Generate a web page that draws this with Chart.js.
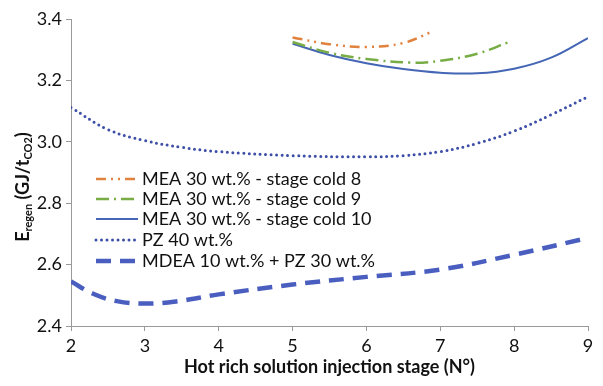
<!DOCTYPE html>
<html>
<head>
<meta charset="utf-8">
<script src="https://cdn.jsdelivr.net/npm/chart.js@4"></script>
<style>
  html, body { margin: 0; padding: 0; background: #fff; }
  #wrap { width: 603px; height: 386px; position: relative; }
</style>
</head>
<body>
<div id="wrap"><canvas id="chart"></canvas></div>
<script>
// data
const xTicks = [2, 3, 4, 5, 6, 7, 8, 9];
const yTicks = [2.4, 2.6, 2.8, 3.0, 3.2, 3.4];

const cold8X = [5, 5.5, 6, 6.5, 6.9];
const cold8Y = [3.34, 3.318, 3.309, 3.322, 3.36];

const cold9X = [5, 5.5, 6, 6.6, 7, 7.5, 7.93];
const cold9Y = [3.325, 3.29, 3.27, 3.258, 3.264, 3.287, 3.325];

const cold10X = [5, 5.5, 6, 6.5, 7, 7.5, 8, 8.5, 9];
const cold10Y = [3.319, 3.283, 3.256, 3.237, 3.225, 3.223, 3.238, 3.274, 3.338];

const pzX = [2, 2.5, 3, 3.5, 4, 5, 6, 6.5, 7, 7.5, 8, 8.5, 9];
const pzY = [3.112, 3.04, 3.004, 2.982, 2.968, 2.955, 2.951, 2.955, 2.968, 2.995, 3.035, 3.088, 3.147];

const mdeaX = [2, 2.3, 2.62, 3, 3.42, 4, 5, 6, 7, 8, 9];
const mdeaY = [2.545, 2.505, 2.481, 2.473, 2.48, 2.503, 2.535, 2.56, 2.584, 2.632, 2.687];

const labels = [
    'MEA 30 wt.% - stage cold 8',
    'MEA 30 wt.% - stage cold 9',
    'MEA 30 wt.% - stage cold 10',
    'PZ 40 wt.%',
    'MDEA 10 wt.% + PZ 30 wt.%'
];

const ORANGE = '#e0823d';
const GREEN = '#78ad46';
const BLUE = '#4466b4';
const NAVY = '#3c4ea6';
const DBLUE = '#4a5ec0';

function pts(xs, ys) {
    return xs.map((x, i) => ({ x: x, y: ys[i] }));
}

const FONT = 'Lato, "Open Sans", sans-serif';

// custom legend + y title
const extras = {
    id: 'extras',
    afterDraw(chart) {
        const ctx = chart.ctx;
        ctx.save();
        // legend
        const rows = [179, 199, 219, 240, 261];
        chart.data.datasets.forEach((ds, i) => {
            const y = rows[i];
            ctx.strokeStyle = ds.borderColor;
            ctx.lineWidth = ds.borderWidth;
            ctx.lineCap = ds.borderCapStyle || 'butt';
            ctx.setLineDash(ds.borderDash || []);
            ctx.beginPath();
            ctx.moveTo(96, y);
            ctx.lineTo(138, y);
            ctx.stroke();
            ctx.setLineDash([]);
            ctx.fillStyle = '#111';
            ctx.font = '18px ' + FONT;
            ctx.textBaseline = 'middle';
            ctx.textAlign = 'left';
            ctx.fillText(ds.label, 142, y);
        });

        // y title: E_regen (GJ/t_CO2)
        ctx.translate(23, 187);
        ctx.rotate(-Math.PI / 2);
        const parts = [
            ['E', 'bold 18px ' + FONT, 0],
            ['regen', 'bold 11px ' + FONT, 5],
            [' (GJ/t', 'bold 18px ' + FONT, 0],
            ['CO2', 'bold 11px ' + FONT, 5],
            [')', 'bold 18px ' + FONT, 0]
        ];
        let total = 0;
        parts.forEach(p => { ctx.font = p[1]; total += ctx.measureText(p[0]).width; });
        let x = -total / 2;
        ctx.fillStyle = '#111';
        ctx.textBaseline = 'middle';
        parts.forEach(p => {
            ctx.font = p[1];
            ctx.fillText(p[0], x, p[2]);
            x += ctx.measureText(p[0]).width;
        });
        ctx.restore();
    }
};

new Chart(document.getElementById('chart'), {
    type: 'line',
    data: {
        datasets: [
            {
                label: labels[0],
                data: pts(cold8X, cold8Y),
                borderColor: ORANGE,
                borderWidth: 2.5,
                borderDash: [10, 5, 2, 5, 2, 5]
            },
            {
                label: labels[1],
                data: pts(cold9X, cold9Y),
                borderColor: GREEN,
                borderWidth: 2.5,
                borderDash: [13, 5, 2, 5]
            },
            {
                label: labels[2],
                data: pts(cold10X, cold10Y),
                borderColor: BLUE,
                borderWidth: 2
            },
            {
                label: labels[3],
                data: pts(pzX, pzY),
                borderColor: NAVY,
                borderWidth: 3,
                borderCapStyle: 'round',
                borderDash: [0, 5.5]
            },
            {
                label: labels[4],
                data: pts(mdeaX, mdeaY),
                borderColor: DBLUE,
                borderWidth: 4.5,
                borderDash: [15, 9]
            }
        ]
    },
    options: {
        responsive: true,
        maintainAspectRatio: false,
        animation: false,
        layout: { padding: { left: 0, right: 15, top: 19, bottom: 0 } },
        elements: {
            point: { radius: 0 },
            line: { tension: 0.4, fill: false }
        },
        plugins: {
            legend: { display: false },
            tooltip: { enabled: false }
        },
        scales: {
            x: {
                type: 'linear',
                min: 2,
                max: 9,
                afterFit: s => { s.height = 60; },
                afterBuildTicks: s => { s.ticks = xTicks.map(v => ({ value: v })); },
                grid: { drawOnChartArea: false, drawTicks: true, tickLength: 5, color: '#999' },
                border: { display: true, color: '#999', width: 1 },
                ticks: { color: '#111', font: { size: 18, family: FONT }, padding: 4 },
                title: {
                    display: true,
                    text: 'Hot rich solution injection stage (N°)',
                    color: '#111',
                    font: { size: 18, weight: 'bold', family: FONT },
                    padding: { top: 0, bottom: 8 }
                }
            },
            y: {
                min: 2.4,
                max: 3.4,
                afterFit: s => { s.width = 71; },
                afterBuildTicks: s => { s.ticks = yTicks.map(v => ({ value: v })); },
                grid: { drawOnChartArea: false, drawTicks: true, tickLength: 5, color: '#999' },
                border: { display: true, color: '#999', width: 1 },
                ticks: {
                    color: '#111',
                    font: { size: 18, family: FONT },
                    padding: 4,
                    callback: v => v.toFixed(1)
                }
            }
        }
    },
    plugins: [extras]
});
</script>
</body>
</html>
